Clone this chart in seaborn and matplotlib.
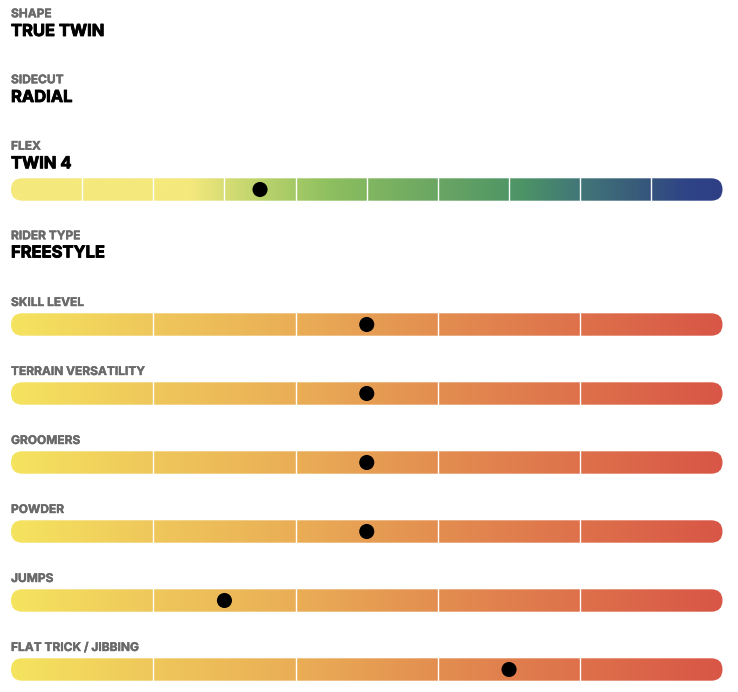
import numpy as np
import pandas as pd
import matplotlib
matplotlib.use("Agg")
import matplotlib.pyplot as plt
import matplotlib.patheffects as pe
from matplotlib.colors import LinearSegmentedColormap, to_rgb
from matplotlib.patches import FancyBboxPatch
import seaborn as sns

sns.set_theme(style="white")
plt.rcParams['font.family'] = ['Inter', 'DejaVu Sans']

# ---- data ----
info_labels = ["SHAPE", "SIDECUT"]
info_values = ["TRUE TWIN", "RADIAL"]

flex_label = "FLEX"
flex_text = "TWIN 4"
flex_value = 4
flex_max = 10

rider_label = "RIDER TYPE"
rider_value = "FREESTYLE"

rating_labels = ["SKILL LEVEL", "TERRAIN VERSATILITY", "GROOMERS", "POWDER",
                 "JUMPS", "FLAT TRICK / JIBBING"]
rating_values = [3, 3, 3, 3, 2, 4]
rating_max = 5

# ---- style ----
W, H = 738, 692
X0, X1 = 11, 722.5
BAR_H = 22.4
LABEL_COLOR = "#6a6a6a"
LABEL_SIZE = 8.6
VALUE_SIZE = 11.9

flex_stops = [(0.0, "#F5E87D"), (0.25, "#F5E87D"), (0.35, "#BBD36C"),
              (0.45, "#8DBF5F"), (0.60, "#6AA663"), (0.72, "#4C9366"),
              (0.80, "#427678"), (0.88, "#385C7A"), (0.95, "#2F4386"),
              (1.0, "#2E3F86")]
rating_stops = [(0.0, "#F5E45F"), (0.2, "#EFC75B"), (0.4, "#EAAE56"),
                (0.6, "#E38E50"), (0.8, "#DE714B"), (1.0, "#D85646")]

fig = plt.figure(figsize=(W / 100, H / 100), dpi=100)
ax = fig.add_axes([0, 0, 1, 1])
ax.set_xlim(0, W)
ax.set_ylim(H, 0)
ax.axis("off")


def label(y, text):
    ax.text(X0, y, text, color=LABEL_COLOR, fontsize=LABEL_SIZE,
            fontweight="bold", va="baseline", ha="left",
            path_effects=[pe.withStroke(linewidth=0.3, foreground=LABEL_COLOR)])


def value(y, text):
    ax.text(X0, y, text, color="black", fontsize=VALUE_SIZE,
            fontweight="bold", va="baseline", ha="left",
            path_effects=[pe.withStroke(linewidth=0.6, foreground="black")])


def bar(top, stops, n, v):
    cmap = LinearSegmentedColormap.from_list("g", [(p, to_rgb(c)) for p, c in stops])
    grad = np.linspace(0, 1, 512).reshape(1, -1)
    im = ax.imshow(grad, cmap=cmap, aspect="auto",
                   extent=[X0, X1, top + BAR_H, top], interpolation="bilinear", zorder=1)
    patch = FancyBboxPatch((X0, top), X1 - X0, BAR_H,
                           boxstyle=f"round,pad=0,rounding_size={BAR_H/2}",
                           transform=ax.transData, facecolor="none", edgecolor="none")
    ax.add_patch(patch)
    im.set_clip_path(patch)
    seg = (X1 - X0) / n
    for i in range(1, n):
        ax.plot([X0 + i * seg] * 2, [top, top + BAR_H], color="white", lw=1.0, zorder=2)
    df = pd.DataFrame({"x": [X0 + (v - 0.5) * seg], "y": [top + BAR_H / 2]})
    sns.scatterplot(data=df, x="x", y="y", ax=ax, color="black", s=118,
                    edgecolor="none", zorder=3, legend=False)


# info rows
for i, (lab, val) in enumerate(zip(info_labels, info_values)):
    label(17.3 + 66 * i, lab)
    value(36.0 + 66 * i, val)

# flex
label(149.7, flex_label)
value(168.3, flex_text)
bar(178.3, flex_stops, flex_max, flex_value)

# rider type
label(239.3, rider_label)
value(257.5, rider_value)

# ratings
for i, (lab, v) in enumerate(zip(rating_labels, rating_values)):
    base = 306 + 69 * i
    label(base, lab)
    bar(base + 7.3, rating_stops, rating_max, v)

ax.set_xlim(0, W)
ax.set_ylim(H, 0)
ax.set_xlabel("")
ax.set_ylabel("")
fig.savefig("out.png", dpi=100)
